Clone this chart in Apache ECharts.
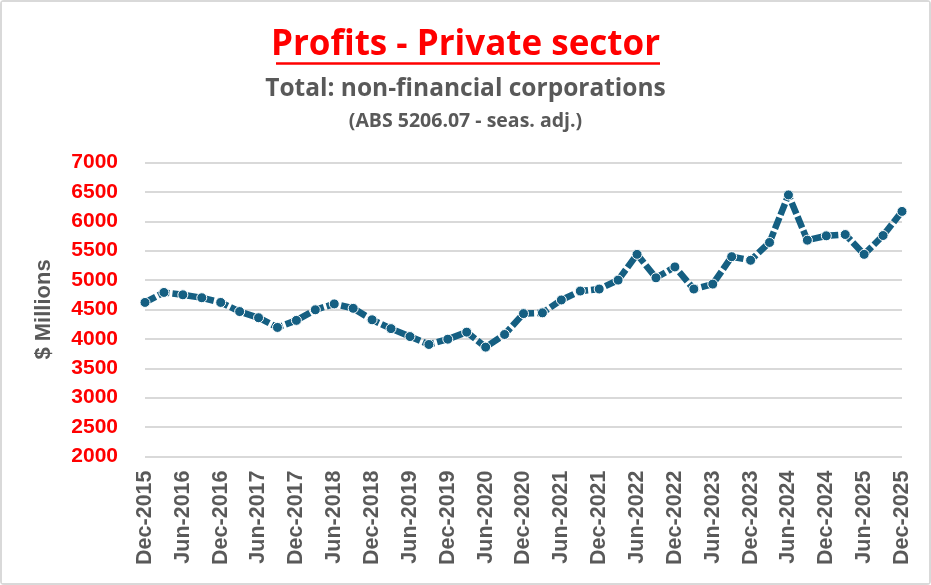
<!DOCTYPE html>
<html>
<head>
<meta charset="utf-8">
<script src="https://cdn.jsdelivr.net/npm/echarts@6/dist/echarts.min.js"></script>
<style>
  html, body { margin: 0; padding: 0; background: #fff; }
  #chart { width: 931px; height: 585px; box-sizing: border-box; border: 2px solid #d9d9d9; border-radius: 4px; }
</style>
</head>
<body>
<div id="chart"></div>
<script>
// quarterly, Dec-2015 .. Dec-2025
var quarters = [
	'Dec-2015','Mar-2016','Jun-2016','Sep-2016','Dec-2016','Mar-2017','Jun-2017','Sep-2017',
	'Dec-2017','Mar-2018','Jun-2018','Sep-2018','Dec-2018','Mar-2019','Jun-2019','Sep-2019',
	'Dec-2019','Mar-2020','Jun-2020','Sep-2020','Dec-2020','Mar-2021','Jun-2021','Sep-2021',
	'Dec-2021','Mar-2022','Jun-2022','Sep-2022','Dec-2022','Mar-2023','Jun-2023','Sep-2023',
	'Dec-2023','Mar-2024','Jun-2024','Sep-2024','Dec-2024','Mar-2025','Jun-2025','Sep-2025',
	'Dec-2025'
];

var profits = [
	4620, 4790, 4750, 4700, 4620, 4465, 4360, 4195,
	4315, 4495, 4595, 4520, 4325, 4175, 4040, 3905,
	3995, 4115, 3860, 4075, 4430, 4443, 4662, 4814,
	4848, 5000, 5438, 5039, 5224, 4848, 4932, 5398,
	5337, 5640, 6449, 5679, 5753, 5775, 5438, 5758,
	6168
];

var yTicks = { min: 2000, max: 7000, step: 500 };

var titleText = 'Profits - Private sector';
var subText = 'Total: non-financial corporations';
var noteText = '(ABS 5206.07 - seas. adj.)';

var myChart = echarts.init(document.getElementById('chart'));
var chartOption = {
	backgroundColor: '#fff',
	animation: false,
	title: [
		{
			text: titleText, left: 'center', top: 21,
			textStyle: { color: '#ff0000', fontFamily: 'Open Sans', fontWeight: 'bold', fontSize: 35 }
		},
		{
			text: subText, left: 'center', top: 70,
			textStyle: { color: '#595959', fontFamily: 'Open Sans', fontWeight: 'bold', fontSize: 24.5 }
		},
		{
			text: noteText, left: 'center', top: 104,
			textStyle: { color: '#595959', fontFamily: 'Open Sans', fontWeight: 'bold', fontSize: 19.5 }
		}
	],
	graphic: [
		{
			type: 'line', silent: true,
			shape: { x1: 274, y1: 61.5, x2: 658, y2: 61.5 },
			style: { stroke: '#ff0000', lineWidth: 2.5 }
		}
	],
	grid: { left: 143, right: 27, top: 160.5, bottom: 126.5 },
	xAxis: {
		type: 'category',
		data: quarters,
		boundaryGap: false,
		axisLine: { show: false },
		axisTick: { show: false },
		axisLabel: {
			rotate: 90,
			interval: 1,
			margin: 14,
			color: '#595959',
			fontFamily: 'Liberation Sans',
			fontWeight: 'bold',
			fontSize: 21.5
		}
	},
	yAxis: {
		type: 'value',
		min: yTicks.min,
		max: yTicks.max,
		interval: yTicks.step,
		name: '$ Millions',
		nameLocation: 'middle',
		nameGap: 90,
		nameTextStyle: { color: '#595959', fontFamily: 'Liberation Sans', fontWeight: 'bold', fontSize: 22 },
		axisLine: { show: false },
		axisTick: { show: false },
		axisLabel: {
			margin: 27,
			color: '#ff0000',
			fontFamily: 'Liberation Sans',
			fontWeight: 'bold',
			fontSize: 21,
			formatter: function (v) { return String(v); }
		},
		splitLine: { lineStyle: { color: '#d9d9d9', width: 2 } }
	},
	series: [
		{
			type: 'line',
			data: profits,
			symbol: 'circle',
			symbolSize: 10,
			lineStyle: { color: '#155f82', width: 6.5, type: [12, 3] },
			itemStyle: { color: '#155f82', borderColor: '#fff', borderWidth: 1 }
		}
	]
};
myChart.setOption(chartOption);
</script>
</body>
</html>
